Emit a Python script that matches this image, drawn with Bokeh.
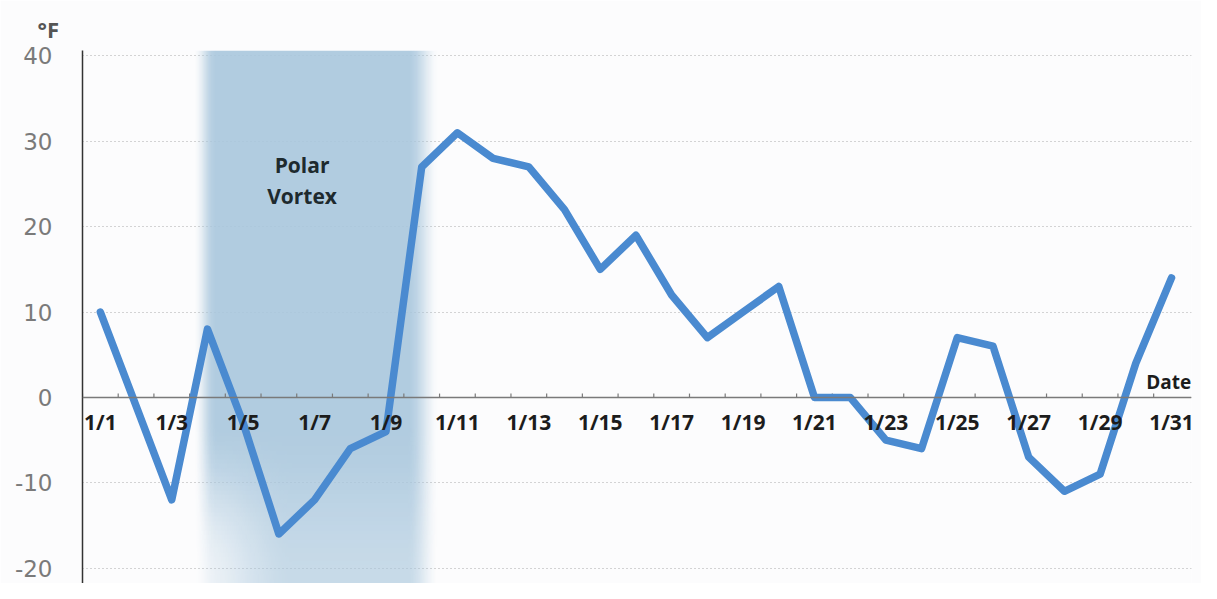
import numpy as np
from bokeh.plotting import figure
from bokeh.models import FixedTicker, Range1d, Span
from bokeh.core.properties import value
from bokeh.embed import file_html
from bokeh.resources import INLINE

# ---- data ----
days = list(range(1, 32))
temps_f = [10, -1, -12, 8, -3, -16, -12, -6, -4, 27, 31, 28, 27, 22, 15, 19, 12, 7, 10, 13,
           0, 0, -5, -6, 7, 6, -7, -11, -9, 4, 14]
tick_days = list(range(1, 32, 2))
tick_labels = [f"1/{d}" for d in tick_days]
y_ticks = [-20, -10, 0, 10, 20, 30, 40]
y_tick_labels = {t: str(t) for t in y_ticks}
vortex_start, vortex_end = 3.6, 10.5
y_lo, y_hi = -21.8, 40.64

LINE = "#4a8ad0"
SHADE = (168, 198, 220)

p = figure(width=1201, height=583, output_backend="svg", toolbar_location=None,
           x_range=Range1d(0.5, 31.56), y_range=Range1d(y_lo, y_hi), x_axis_location=None,
           min_border_left=82, min_border_right=10, min_border_top=50, min_border_bottom=0)
p.outline_line_color = None
p.background_fill_color = "#fcfcfd"
p.border_fill_color = "#fcfcfd"

# ---- title used as unit label ----
p.title.text = "°F"
p.title.align = "left"
p.title.offset = -45
p.title.text_font = "Open Sans"
p.title.text_font_style = "bold"
p.title.text_font_size = "22px"
p.title.text_color = "#555555"
p.title.standoff = 14

# ---- shaded polar vortex band (gradient image) ----
nx, ny = 240, 120
xs = np.linspace(0, 1, nx)
ys = np.linspace(0, 1, ny)
def smooth(t):
    t = np.clip(t, 0, 1)
    return t * t * (3 - 2 * t)
hx = smooth(xs / 0.09) * smooth((1 - xs) / 0.13)
vy = 0.7 + 0.3 * smooth(ys / 0.3)
X, Y = np.meshgrid(xs, ys)
left_fade = 1 - (1 - smooth(X / 0.4)) * (1 - smooth(Y / 0.3)) * 0.75
alpha = (np.outer(vy, hx) * left_fade * 0.9 * 255).astype(np.uint32)
img = np.zeros((ny, nx), dtype=np.uint32)
view = img.view(dtype=np.uint8).reshape((ny, nx, 4))
view[:, :, 0] = SHADE[0]
view[:, :, 1] = SHADE[1]
view[:, :, 2] = SHADE[2]
view[:, :, 3] = alpha
p.image_rgba(image=[img], x=vortex_start, y=y_lo, dw=vortex_end - vortex_start, dh=y_hi - y_lo)

# ---- grid ----
p.xgrid.visible = False
p.ygrid.ticker = FixedTicker(ticks=y_ticks)
p.ygrid.grid_line_color = "#aaaaaa"
p.ygrid.grid_line_dash = "1 3"
p.ygrid.grid_line_width = 1

# ---- zero axis drawn in the middle of the frame ----
p.add_layout(Span(location=0, dimension="width", line_color="#7a7a7a", line_width=1.5))
bounds = [d + 0.5 for d in range(0, 31)]
p.segment(x0=bounds, y0=[0] * len(bounds), x1=bounds, y1=[0.45] * len(bounds),
          line_color="#7a7a7a", line_width=1.2)

# ---- line ----
p.line(days, temps_f, line_color=LINE, line_width=7.5, line_join="round", line_cap="round")

# ---- x tick labels ----
p.text(x=tick_days, y=[0] * len(tick_days), text=tick_labels, y_offset=25,
       text_font=value("Open Sans"), text_font_style="bold", text_font_size="21px",
       text_color="#1c1c1c", text_align="center", text_baseline="middle")

ya = p.yaxis[0]
ya.ticker = FixedTicker(ticks=y_ticks)
ya.major_label_overrides = y_tick_labels
ya.major_tick_line_color = None
ya.minor_tick_line_color = None
ya.major_tick_out = 0
ya.major_tick_in = 0
ya.minor_tick_out = 0
ya.minor_tick_in = 0
ya.axis_line_color = "#333333"
ya.axis_line_width = 1.5
ya.major_label_standoff = 30
ya.major_label_text_font = "DejaVu Sans"
ya.major_label_text_font_size = "23px"
ya.major_label_text_color = "#7a7a7a"

# ---- annotations ----
p.text(x=[6.65, 6.65], y=[27.2, 23.6], text=["Polar", "Vortex"],
       text_font=value("Open Sans"), text_font_style="bold", text_font_size="21px",
       text_color="#1e2a2e", text_align="center", text_baseline="middle")
p.text(x=[31.55], y=[1.8], text=["Date"],
       text_font=value("Open Sans"), text_font_style="bold", text_font_size="19px",
       text_color="#1c1c1c", text_align="right", text_baseline="middle")

open("out.html", "w").write(file_html(p, INLINE))
